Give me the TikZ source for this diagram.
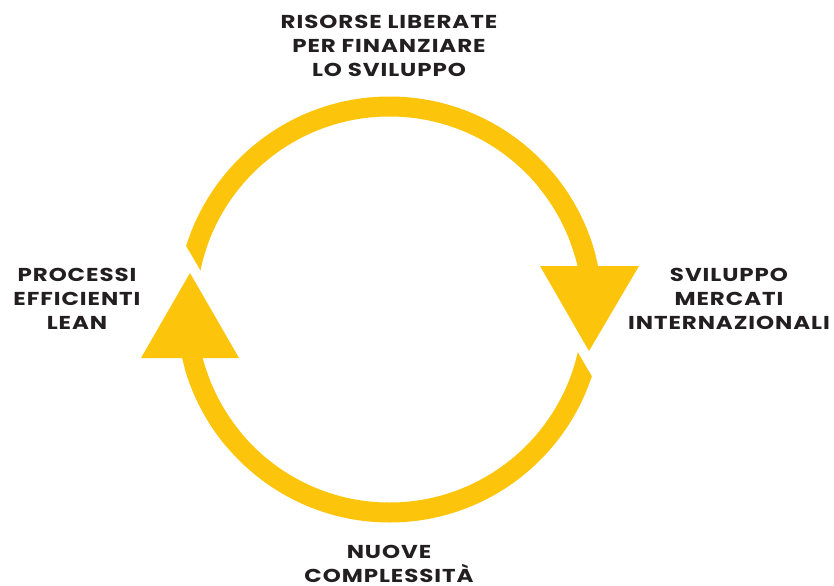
\documentclass[tikz,border=0pt]{standalone}
\usepackage{fontspec}
\setmainfont{Poppins}[FakeStretch=1.23,LetterSpace=5]
\usetikzlibrary{calc}
\definecolor{ring}{RGB}{252,197,12}
\definecolor{ink}{RGB}{35,31,32}
\begin{document}
\begin{tikzpicture}[x=0.75pt,y=-0.75pt,
  ringline/.style={draw=ring,line width=15pt},
  cutline/.style={draw=white,line width=15pt},
  cutstroke/.style={draw=white,line width=15pt,line join=miter},
  arrowhead/.style={fill=ring},
  lbl/.style={text=ink,font=\fontsize{14}{18}\selectfont\bfseries,align=center,inner sep=0pt,anchor=north}]
\useasboundingbox (0,0) rectangle (834,585);
\coordinate (c) at (389.5,309.5);
% left arrow head
\coordinate (LA) at (190,273);
\coordinate (LB1) at (141,358);
\coordinate (LB2) at (239,358);
% right arrow head
\coordinate (RA) at (589,351);
\coordinate (RB1) at (540,266);
\coordinate (RB2) at (639,266);
% ring
\draw[ringline] (c) circle[radius=203];
% white cuts
\draw[cutline] ($(LA)+(0.4995*60,0.866*60)$) -- ($(LA)+(-0.4995*55,-0.866*55)$);
\draw[cutline] ($(RA)+(-0.4995*60,-0.866*60)$) -- ($(RA)+(0.4995*55,0.866*55)$);
\draw[cutstroke] (LA) -- (LB1) -- (LB2) -- cycle;
\draw[cutstroke] (RA) -- (RB1) -- (RB2) -- cycle;
% arrow heads
\fill[arrowhead] (LA) -- (LB1) -- (LB2) -- cycle;
\fill[arrowhead] (RA) -- (RB1) -- (RB2) -- cycle;
% arc parts entering the bases
\draw[ringline] ($(c)+(180:203)$) arc[start angle=180,end angle=140,radius=203];
\draw[ringline] ($(c)+(0:203)$) arc[start angle=0,end angle=-40,radius=203];
% labels
\node[lbl] (top) at (389,15) {RISORSE LIBERATE\\PER FINANZIARE\\LO SVILUPPO};
\node[lbl] (left) at (77,268) {PROCESSI\\EFFICIENTI\\LEAN};
\node[lbl] (right) at (729,268) {SVILUPPO\\MERCATI\\INTERNAZIONALI};
\node[lbl] (bottom) at (389,545) {NUOVE\\COMPLESSITÀ};
\end{tikzpicture}
\end{document}
